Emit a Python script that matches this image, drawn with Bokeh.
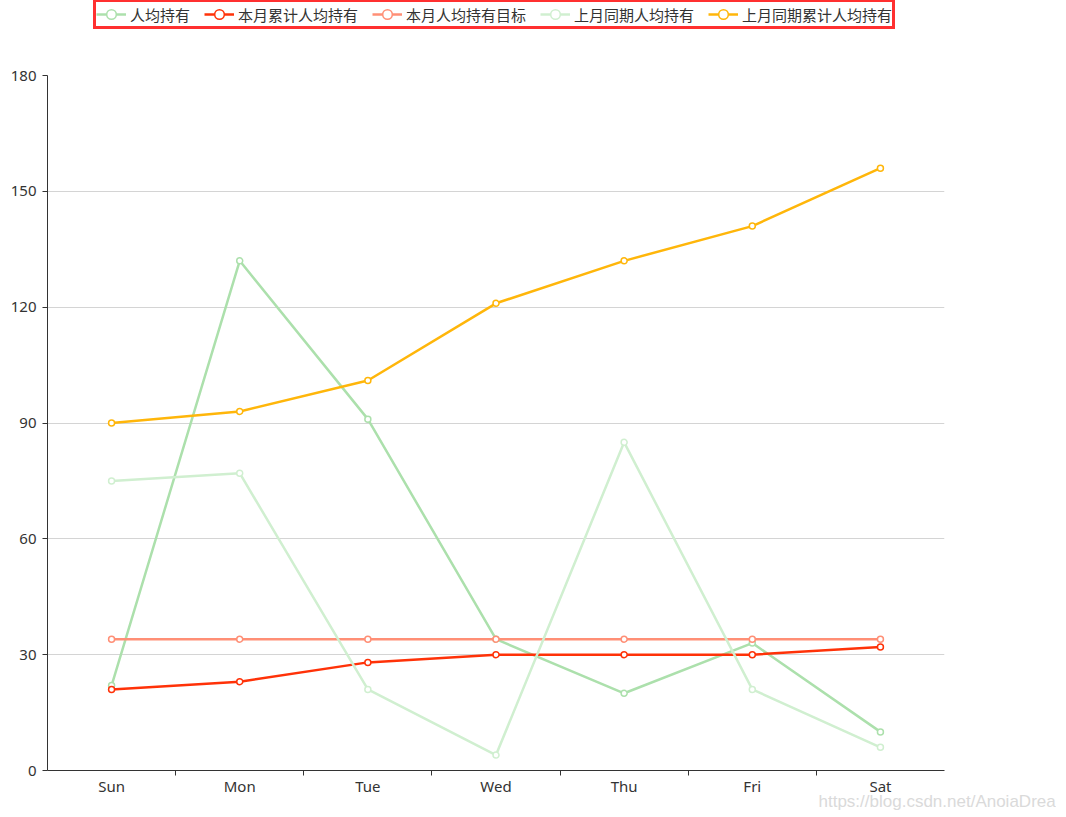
from bokeh.plotting import figure
from bokeh.layouts import column
from bokeh.models import FixedTicker, Legend, LegendItem, Title
from bokeh.embed import file_html
from bokeh.resources import INLINE

days = ["Sun", "Mon", "Tue", "Wed", "Thu", "Fri", "Sat"]
avg_hold = [22, 132, 91, 34, 20, 33, 10]
month_cum_avg = [21, 23, 28, 30, 30, 30, 32]
month_target = [34, 34, 34, 34, 34, 34, 34]
last_month_avg = [75, 77, 21, 4, 85, 21, 6]
last_month_cum_avg = [90, 93, 101, 121, 132, 141, 156]
series_names = ["人均持有", "本月累计人均持有", "本月人均持有目标", "上月同期人均持有", "上月同期累计人均持有"]
series_values = [avg_hold, month_cum_avg, month_target, last_month_avg, last_month_cum_avg]
colors = ["#ace0ac", "#ff3208", "#ff8f76", "#d0efd0", "#ffb60a"]
y_ticks = [0, 30, 60, 90, 120, 150, 180]

xs = list(range(len(days)))

LEG_H = 40

# ---------------- legend strip (its own small figure, ranges set away from data) ----------------
lf = figure(width=1056, height=LEG_H, x_range=(-100, -99), y_range=(-100, -99),
            output_backend="svg", toolbar_location=None,
            min_border=0, min_border_left=0, min_border_right=0,
            min_border_top=0, min_border_bottom=0)
lf.axis.visible = False
lf.grid.visible = False
lf.outline_line_color = None
lf.border_fill_color = "white"
lf.background_fill_color = "white"

items = []
for name, vals, c in zip(series_names, series_values, colors):
    lr = lf.line(xs, vals, line_color=c, line_width=2.5)
    sr = lf.scatter(xs, vals, size=6, fill_color="white", line_color=c, line_width=1.5)
    items.append(LegendItem(label=name, renderers=[lr, sr], index=0))

legend = Legend(items=items, orientation="horizontal", location=(46, 11),
                border_line_color="#ff3030", border_line_width=3, border_line_alpha=1.0,
                background_fill_color="white", background_fill_alpha=1,
                label_text_font="Noto Sans CJK SC", label_text_font_size="15px",
                label_text_color="#333333", glyph_width=30, glyph_height=24,
                label_height=20, spacing=14, padding=0, margin=0, label_standoff=4)
lf.add_layout(legend, "center")

# ---------------- main chart ----------------
p = figure(width=1056, height=775, x_range=(-0.5, 6.5), y_range=(0, 180),
           output_backend="svg", toolbar_location=None,
           min_border_left=47, min_border_right=112, min_border_top=75 - LEG_H,
           min_border_bottom=45)
p.outline_line_color = None
p.background_fill_color = "white"
p.border_fill_color = "white"
p.xgrid.grid_line_color = None
p.ygrid.grid_line_color = "#d4d4d4"
p.ygrid.grid_line_width = 1

xa = p.xaxis[0]
xa.ticker = FixedTicker(ticks=xs, minor_ticks=[i + 0.5 for i in range(len(days) - 1)])
xa.major_label_overrides = {i: d for i, d in enumerate(days)}
xa.major_tick_out = 0
xa.major_tick_in = 0
xa.minor_tick_out = 5
xa.minor_tick_in = 0
xa.minor_tick_line_color = "#333333"
xa.axis_line_color = "#333333"
xa.major_label_standoff = 0
xa.major_label_text_font = "Noto Sans"
xa.major_label_text_font_size = "15px"
xa.major_label_text_color = "#333333"

ya = p.yaxis[0]
ya.ticker = FixedTicker(ticks=y_ticks, minor_ticks=[])
ya.major_tick_out = 5
ya.major_tick_in = 0
ya.major_tick_line_color = "#333333"
ya.axis_line_color = "#333333"
ya.major_label_standoff = 6
ya.major_label_text_font = "Noto Sans"
ya.major_label_text_font_size = "15px"
ya.major_label_text_color = "#333333"

for name, vals, c in zip(series_names, series_values, colors):
    p.line(xs, vals, line_color=c, line_width=2.5)
    p.scatter(xs, vals, size=6, fill_color="white", line_color=c, line_width=1.5)

wm = Title(text="https://blog.csdn.net/AnoiaDream", align="left", offset=771,
           vertical_align="top", text_color="#dadada", text_font="Liberation Sans",
           text_font_size="17px", text_font_style="normal", standoff=-14)
p.add_layout(wm, "below")

layout = column(lf, p, spacing=0)
open("out.html", "w").write(file_html(layout, INLINE))
